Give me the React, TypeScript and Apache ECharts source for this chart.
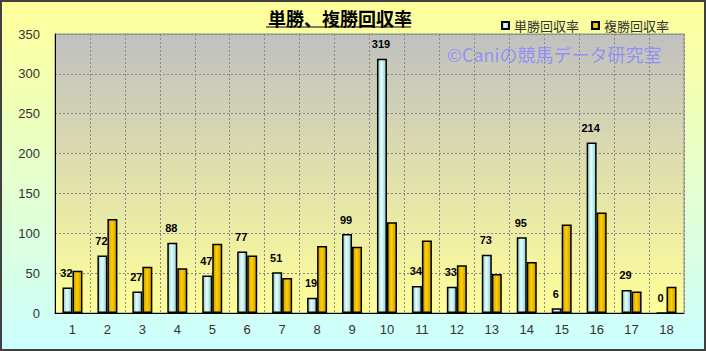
import React, { useEffect, useRef } from "react";
import * as echarts from "echarts";

const categories = ["1","2","3","4","5","6","7","8","9","10","11","12","13","14","15","16","17","18"];
const tanshoValues = [32, 72, 27, 88, 47, 77, 51, 19, 99, 319, 34, 33, 73, 95, 6, 214, 29, 0];
const fukushoValues = [53, 118, 58, 56, 87, 72, 44, 84, 83, 114, 91, 60, 49, 64, 111, 126, 27, 33];
const seriesNames = ["単勝回収率", "複勝回収率"];
const titleText = "単勝、複勝回収率";
const watermarkText = "©Caniの競馬データ研究室";

export default function App() {
  const ref = useRef<HTMLDivElement>(null);
  useEffect(() => {
    if (!ref.current) return;
    const chart = echarts.init(ref.current, undefined, { renderer: "svg" });
    const hGrad = (edge: string, mid: string) =>
      new echarts.graphic.LinearGradient(0, 0, 1, 0, [
        { offset: 0, color: edge },
        { offset: 0.45, color: mid },
        { offset: 1, color: edge },
      ]);
    chart.setOption({
      animation: false,
      backgroundColor: new echarts.graphic.LinearGradient(0, 0, 0, 1, [
        { offset: 0, color: "#ffff99" },
        { offset: 1, color: "#ccffff" },
      ]),
      title: {
        text: titleText,
        left: 263,
        top: 4,
        textStyle: { fontFamily: "Noto Sans CJK JP", fontSize: 18, fontWeight: "bold", color: "#000" },
      },
      legend: {
        data: seriesNames,
        left: 496,
        top: 14,
        itemWidth: 7,
        itemHeight: 7,
        itemGap: 12,
        icon: "rect",
        textStyle: { fontFamily: "Noto Sans CJK JP", fontSize: 13, color: "#333" },
      },
      grid: {
        left: 55,
        right: 22,
        top: 34,
        bottom: 38,
        show: true,
        borderColor: "#888",
        borderWidth: 1,
        backgroundColor: new echarts.graphic.LinearGradient(0, 0, 0, 1, [
          { offset: 0, color: "#c0c0c0" },
          { offset: 1, color: "#ffff99" },
        ]),
      },
      xAxis: {
        type: "category",
        data: categories,
        axisLine: { lineStyle: { color: "#000", width: 1 } },
        axisTick: { show: false },
        axisLabel: { fontFamily: "Liberation Sans", fontSize: 13, color: "#333", margin: 10 },
        splitLine: { show: true, lineStyle: { color: "#888", type: [2, 2], width: 1 } },
      },
      yAxis: {
        type: "value",
        min: 0,
        max: 350,
        interval: 50,
        axisLine: { show: true, lineStyle: { color: "#000", width: 1 } },
        axisTick: { show: false },
        axisLabel: { fontFamily: "Liberation Sans", fontSize: 13, color: "#333", margin: 15 },
        splitLine: { show: true, lineStyle: { color: "#888", type: [2, 2], width: 1 } },
      },
      graphic: [
        {
          type: "line",
          shape: { x1: 266, y1: 27, x2: 411, y2: 27 },
          style: { stroke: "#000", lineWidth: 1 },
          z: 10,
        },
        {
          type: "text",
          x: 447,
          y: 45,
          style: {
            text: watermarkText,
            font: "18px 'Noto Sans CJK JP'",
            fill: "#8888ff",
            opacity: 0.85,
          },
          z: 10,
        },
        {
          type: "rect",
          shape: { x: 1, y: 1, width: 704, height: 349 },
          style: { fill: "none", stroke: "#404040", lineWidth: 2 },
          z: 20,
        },
      ],
      series: [
        {
          name: seriesNames[0],
          type: "bar",
          data: tanshoValues,
          barWidth: 10,
          barGap: "0%",
          itemStyle: { color: hGrad("#88cccc", "#e8ffff"), borderColor: "#000", borderWidth: 1.5 },
          label: {
            show: true,
            position: "top",
            distance: 9,
            offset: [-1, 0],
            fontFamily: "Liberation Sans",
            fontWeight: "bold",
            fontSize: 11,
            color: "#000",
          },
          z: 3,
        },
        {
          name: seriesNames[1],
          type: "bar",
          data: fukushoValues,
          barWidth: 10,
          itemStyle: { color: hGrad("#c89600", "#ffd200"), borderColor: "#000", borderWidth: 1.5 },
          z: 2,
        },
      ],
    });
    return () => chart.dispose();
  }, []);
  return (
    <div
      ref={ref}
      style={{ position: "fixed", left: 0, top: 0, width: 706, height: 351 }}
    />
  );
}
